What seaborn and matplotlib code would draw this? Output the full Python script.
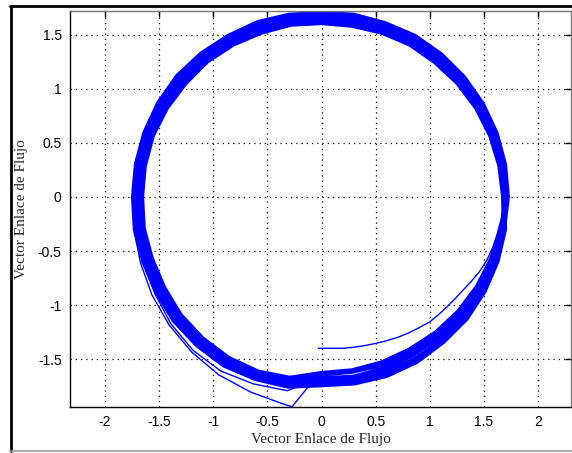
import numpy as np
import pandas as pd
import matplotlib
matplotlib.use("Agg")
import matplotlib.pyplot as plt
import seaborn as sns
from matplotlib.lines import Line2D

# ---------------- data ----------------
# initial transient (Cartesian)
start_x = [-0.03, 0.10, 0.20, 0.30, 0.40, 0.50, 0.60, 0.70, 0.80, 0.90, 1.00,
           1.08, 1.16, 1.23, 1.30, 1.38, 1.46, 1.53, 1.58, 1.62, 1.65, 1.68]
start_y = [-1.40, -1.40, -1.40, -1.39, -1.375, -1.355, -1.33, -1.30, -1.26, -1.21, -1.155,
           -1.09, -1.015, -0.945, -0.87, -0.785, -0.69, -0.58, -0.47, -0.36, -0.24, -0.12]

# angles (deg) at which the loop radii were read
angles = [0, 10, 20, 30, 40, 50, 60, 70, 80, 90, 100, 110,
          120, 130, 140, 150, 160, 170, 180, 190, 200, 210, 220, 230,
          240, 250, 260, 270, 280, 290, 300, 310, 320, 330, 340, 350]

# first two loops (drift outwards at lower left, kink at the bottom)
loop_a = [1.70, 1.71, 1.71, 1.71, 1.70, 1.70, 1.70, 1.69, 1.68, 1.68, 1.68, 1.69,
          1.70, 1.71, 1.71, 1.72, 1.73, 1.73, 1.74, 1.76, 1.78, 1.81, 1.84, 1.87,
          1.90, 1.92, 1.95, 1.71, 1.71, 1.72, 1.72, 1.72, 1.72, 1.72, 1.72, 1.72]
kink_a_ang = [262, 266]
kink_a_r = [1.96, 1.76]

loop_b = [1.72, 1.72, 1.72, 1.72, 1.71, 1.71, 1.71, 1.70, 1.70, 1.69, 1.70, 1.71,
          1.71, 1.72, 1.73, 1.73, 1.74, 1.74, 1.74, 1.75, 1.76, 1.78, 1.82, 1.85,
          1.86, 1.84, 1.82, 1.67, 1.70, 1.71, 1.72, 1.72, 1.72, 1.72, 1.72, 1.72]
kink_b_ang = [266]
kink_b_r = [1.72]

# steady-state loops forming the thick band (outer edge -> inner edge)
band_1 = [1.73, 1.73, 1.73, 1.73, 1.73, 1.73, 1.73, 1.72, 1.72, 1.71, 1.72, 1.73,
          1.73, 1.74, 1.75, 1.75, 1.75, 1.75, 1.75, 1.76, 1.76, 1.77, 1.79, 1.80,
          1.81, 1.80, 1.79, 1.75, 1.76, 1.77, 1.77, 1.76, 1.76, 1.75, 1.74, 1.73]
band_2 = [1.72, 1.72, 1.72, 1.72, 1.71, 1.71, 1.71, 1.70, 1.70, 1.69, 1.70, 1.71,
          1.71, 1.72, 1.73, 1.73, 1.73, 1.74, 1.74, 1.75, 1.75, 1.76, 1.78, 1.79,
          1.80, 1.79, 1.78, 1.73, 1.74, 1.75, 1.75, 1.74, 1.74, 1.74, 1.73, 1.72]
band_3 = [1.71, 1.71, 1.71, 1.70, 1.70, 1.70, 1.70, 1.69, 1.68, 1.68, 1.69, 1.69,
          1.70, 1.71, 1.71, 1.72, 1.72, 1.72, 1.72, 1.73, 1.73, 1.74, 1.76, 1.77,
          1.78, 1.78, 1.76, 1.71, 1.72, 1.73, 1.73, 1.72, 1.72, 1.72, 1.72, 1.71]
band_4 = [1.70, 1.70, 1.69, 1.69, 1.69, 1.68, 1.68, 1.67, 1.67, 1.66, 1.67, 1.68,
          1.68, 1.69, 1.70, 1.70, 1.71, 1.71, 1.70, 1.72, 1.71, 1.72, 1.75, 1.76,
          1.77, 1.76, 1.75, 1.69, 1.70, 1.70, 1.70, 1.70, 1.71, 1.71, 1.70, 1.70]
band_5 = [1.69, 1.69, 1.68, 1.68, 1.67, 1.66, 1.66, 1.65, 1.65, 1.64, 1.65, 1.66,
          1.66, 1.67, 1.68, 1.68, 1.69, 1.69, 1.69, 1.70, 1.70, 1.71, 1.73, 1.74,
          1.75, 1.75, 1.73, 1.67, 1.68, 1.68, 1.68, 1.68, 1.69, 1.69, 1.69, 1.69]
band_6 = [1.68, 1.68, 1.67, 1.66, 1.66, 1.65, 1.65, 1.64, 1.63, 1.63, 1.64, 1.64,
          1.65, 1.66, 1.66, 1.67, 1.67, 1.67, 1.67, 1.68, 1.68, 1.69, 1.71, 1.72,
          1.73, 1.73, 1.71, 1.65, 1.65, 1.66, 1.66, 1.66, 1.67, 1.67, 1.68, 1.68]
band_7 = [1.68, 1.67, 1.66, 1.65, 1.64, 1.63, 1.63, 1.62, 1.61, 1.61, 1.62, 1.62,
          1.63, 1.64, 1.64, 1.65, 1.66, 1.66, 1.66, 1.67, 1.67, 1.68, 1.70, 1.71,
          1.72, 1.72, 1.70, 1.64, 1.64, 1.64, 1.64, 1.65, 1.65, 1.66, 1.67, 1.68]
band_8 = [1.67, 1.66, 1.65, 1.64, 1.63, 1.62, 1.62, 1.61, 1.60, 1.60, 1.61, 1.61,
          1.62, 1.63, 1.63, 1.64, 1.65, 1.65, 1.65, 1.66, 1.66, 1.67, 1.69, 1.70,
          1.71, 1.71, 1.69, 1.62, 1.62, 1.62, 1.62, 1.63, 1.64, 1.65, 1.66, 1.67]

x_ticks = [-2, -1.5, -1, -0.5, 0, 0.5, 1, 1.5, 2]
y_ticks = [-1.5, -1, -0.5, 0, 0.5, 1, 1.5]
x_label = "Vector Enlace de Flujo"
y_label = "Vector Enlace de Flujo"


# ---------------- build the trajectory (polar -> Cartesian) ----------------
def loop_points(radii, kink_ang=None, kink_r=None):
    px, py = [], []
    for a, r in zip(angles, radii):
        t = np.deg2rad(a)
        px.append(r * np.cos(t))
        py.append(r * np.sin(t))
        if kink_ang is not None and a == 260:
            for ka, kr in zip(kink_ang, kink_r):
                tk = np.deg2rad(ka)
                px.append(kr * np.cos(tk))
                py.append(kr * np.sin(tk))
    return px, py


# transient part: start + first two loops
tx, ty = list(start_x), list(start_y)
for rr, ka, kr in [(loop_a, kink_a_ang, kink_a_r), (loop_b, kink_b_ang, kink_b_r)]:
    px, py = loop_points(rr, ka, kr)
    tx += px
    ty += py

# steady state part
bx, by = [tx[-1]], [ty[-1]]
for rr in [band_1, band_5, band_3, band_7, band_2, band_6, band_4, band_8]:
    px, py = loop_points(rr)
    bx += px
    by += py

df_trans = pd.DataFrame({"x": tx, "y": ty})
df_band = pd.DataFrame({"x": bx, "y": by})

# ---------------- figure ----------------
sns.set_theme(style="white")
plt.rcParams["font.family"] = ["Liberation Sans", "DejaVu Sans"]

fig = plt.figure(figsize=(5.72, 4.53), dpi=100)
ax = fig.add_axes([70 / 572, 1 - 407 / 453, 501 / 572, 396 / 453])

sns.lineplot(data=df_trans, x="x", y="y", sort=False, estimator=None,
             color="#0000ff", linewidth=1.0, ax=ax)
sns.lineplot(data=df_band, x="x", y="y", sort=False, estimator=None,
             color="#0000ff", linewidth=1.7, ax=ax)

ax.set_xlim(-2.324, 2.305)
ax.set_ylim(-1.943, 1.72)
ax.set_xticks(x_ticks)
ax.set_xticklabels([f"{v:g}" for v in x_ticks])
ax.set_yticks(y_ticks)
ax.set_yticklabels([f"{v:g}" for v in y_ticks])

ax.grid(True, color="black", linestyle=(0, (1, 3.2)), linewidth=0.9)
ax.tick_params(direction="in", length=4, width=1, colors="black",
               top=True, right=True, labelsize=10, pad=6)

for side in ["left", "bottom"]:
    ax.spines[side].set_color("black")
    ax.spines[side].set_linewidth(1.0)
for side in ["top", "right"]:
    ax.spines[side].set_color("#777777")
    ax.spines[side].set_linewidth(1.0)

ax.set_xlabel(x_label, fontfamily="Liberation Serif", fontsize=11, labelpad=3)
ax.set_ylabel(y_label, fontfamily="Liberation Serif", fontsize=11, labelpad=7)

# outer figure frame
W, H = 572, 453
fig.add_artist(Line2D([10 / W, 1.0], [1 - 5.5 / H, 1 - 5.5 / H], color="black", lw=2,
                      transform=fig.transFigure))
fig.add_artist(Line2D([10.5 / W, 10.5 / W], [1 - 5.5 / H, 1 - 451 / H], color="black", lw=2,
                      transform=fig.transFigure))
fig.add_artist(Line2D([10 / W, 1.0], [1 - 451 / H, 1 - 451 / H], color="#999999", lw=1.2,
                      transform=fig.transFigure))

fig.savefig("out.png", dpi=100)
